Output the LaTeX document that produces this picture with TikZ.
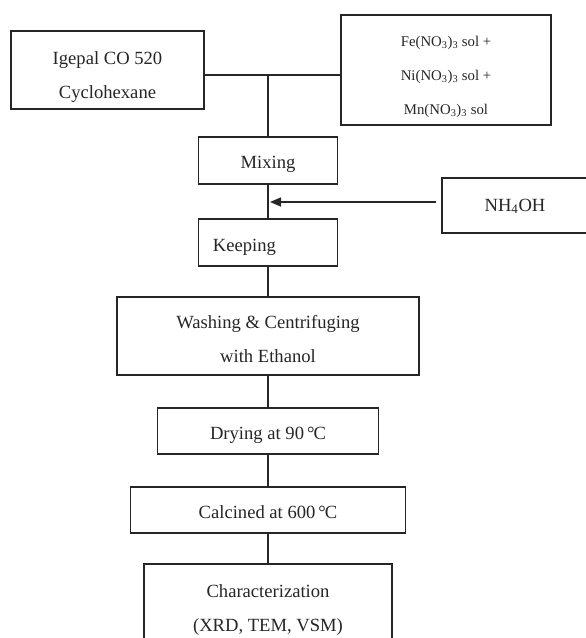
\documentclass[tikz,border=0pt]{standalone}
\usepackage{fontspec}
\setmainfont{Liberation Serif}
\usetikzlibrary{arrows.meta}
\definecolor{ink}{HTML}{262626}
\tikzset{
  box/.style={draw=ink, line width=1.5pt, inner sep=0pt},
  txt/.style={text=ink, align=center, inner sep=0pt, font=\fontsize{18.6}{34}\selectfont},
  smalltxt/.style={txt, font=\fontsize{14.8}{34}\selectfont},
  link/.style={draw=ink, line width=1.5pt},
  feed/.style={draw=ink, line width=1.5pt, -{Triangle[length=11pt,width=9pt]}, shorten >=2pt},
}
\begin{document}
\begin{tikzpicture}[x=1pt,y=-1pt]
\useasboundingbox (0,0) rectangle (586,638);
\clip (0,0) rectangle (586,638);
\fill[white] (0,0) rectangle (586,638);
% boxes
\node[box, minimum width=193pt, minimum height=78pt] (ige) at (107.5,70) {};
\node[box, minimum width=210pt, minimum height=110pt] (fe) at (446,70) {};
\coordinate (j) at (268,75);
\node[box, minimum width=139pt, minimum height=47pt] (mix) at (268,160.5) {};
\node[box, minimum width=146pt, minimum height=55pt] (nh) at (515,205.5) {};
\node[box, minimum width=139pt, minimum height=47pt] (keep) at (268,242.5) {};
\node[box, minimum width=302pt, minimum height=78pt] (wash) at (268,336) {};
\node[box, minimum width=221pt, minimum height=46pt] (dry) at (268,431) {};
\node[box, minimum width=275pt, minimum height=46pt] (calc) at (268,510) {};
\node[box, minimum width=248pt, minimum height=87pt] (char) at (268,607.5) {};
% texts
\node[txt] (igeT) at ([yshift=-7pt]ige.center) {Igepal CO 520\\Cyclohexane};
\node[smalltxt] (feT) at ([yshift=-7pt]fe.center)
  {Fe(NO\textsubscript{3})\textsubscript{3} sol +\\Ni(NO\textsubscript{3})\textsubscript{3} sol +\\Mn(NO\textsubscript{3})\textsubscript{3} sol};
\node[txt] (mixT) at ([yshift=-4pt]mix.center) {Mixing};
\node[txt] (nhT) at ([yshift=-1pt]nh.center) {NH\textsubscript{4}OH};
\node[txt, anchor=west] (keepT) at ([xshift=15pt,yshift=-5pt]keep.west) {Keeping};
\node[txt] (washT) at ([yshift=-3pt]wash.center) {Washing \& Centrifuging\\with Ethanol};
\node[txt] (dryT) at ([yshift=-4pt]dry.center) {Drying at 90\kern3pt°\kern-1pt C};
\node[txt] (calcT) at ([yshift=-2pt]calc.center) {Calcined at 600\kern3pt°\kern-1pt C};
\node[txt] (charT) at ([yshift=-3pt]char.center) {Characterization\\(XRD, TEM, VSM)};
% connectors
\draw[link] (ige.east |- j) -- (fe.west |- j);
\draw[link] (j) -- (mix.north);
\draw[link] (mix.south) -- (keep.north);
\coordinate (ain) at ([xshift=-5pt,yshift=3.5pt]nh.west);
\draw[feed] (ain) to (mix.south |- ain);
\draw[link] (keep.south) -- (wash.north);
\draw[link] (wash.south) -- (dry.north);
\draw[link] (dry.south) -- (calc.north);
\draw[link] (calc.south) -- (char.north);
\end{tikzpicture}
\end{document}
